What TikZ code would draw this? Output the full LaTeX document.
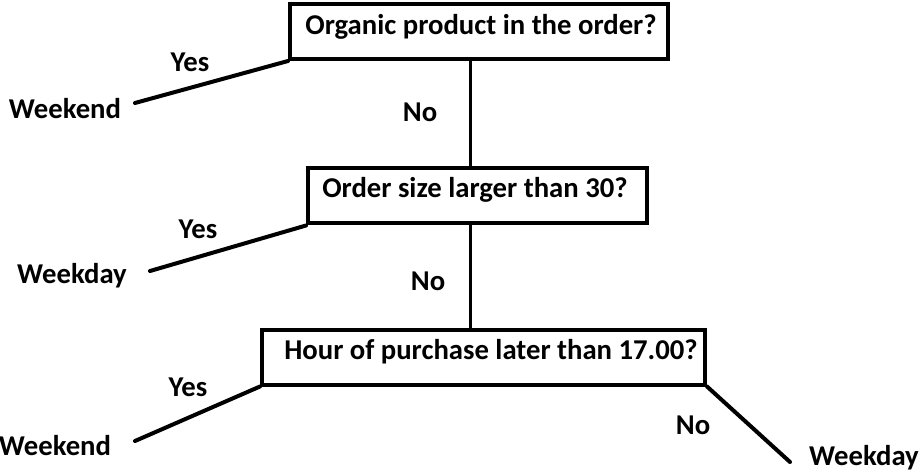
\documentclass[tikz,border=0pt]{standalone}
\usepackage{fontspec}
\setmainfont{Carlito}
\begin{document}
\begin{tikzpicture}[x=1pt,y=-1pt,
  qbox/.style={draw,line width=4pt,minimum width=#1,minimum height=55pt,inner sep=0pt,anchor=center},
  lbl/.style={font=\bfseries\fontsize{28.7}{31}\selectfont,inner sep=0pt},
  edge/.style={line width=4pt,line cap=round},
  stem/.style={line width=3pt}]
\useasboundingbox (0,0) rectangle (921,473);
% question boxes
\node[qbox=378pt] (q1) at (479,31.5) {};
\node[qbox=339pt] (q2) at (477.5,196) {};
\node[qbox=443pt] (q3) at (483.5,357) {};
\node[lbl] (t1) at (481,27) {Organic product in the order?};
\node[lbl] (t2) at (475,190) {Order size larger than 30?};
\node[lbl] (t3) at (491,352) {Hour of purchase later than 17.00?};
% leaves
\node[lbl] (l1) at (65,109) {Weekend};
\node[lbl] (l2) at (72,276) {Weekday};
\node[lbl] (l3) at (55,446) {Weekend};
\node[lbl] (l4) at (864,458) {Weekday};
% branch labels
\node[lbl] (y1) at (190,62) {Yes};
\node[lbl] (y2) at (198,229) {Yes};
\node[lbl] (y3) at (188,387) {Yes};
\node[lbl] (n1) at (420,112) {No};
\node[lbl] (n2) at (428,281) {No};
\node[lbl] (n3) at (693,425) {No};
% free ends
\coordinate (e1) at (135,103);
\coordinate (e2) at (150,271);
\coordinate (e3) at (135,441);
\coordinate (e4) at (790,462);
% connectors
\draw[edge] (q1.south west) -- (e1);
\draw[edge] (q2.south west) -- (e2);
\draw[edge] (q3.south west) -- (e3);
\draw[edge] (q3.south east) -- (e4);
\draw[stem] (470,0 |- q1.south) -- (470,0 |- q2.north);
\draw[stem] (470,0 |- q2.south) -- (470,0 |- q3.north);
\end{tikzpicture}
\end{document}
